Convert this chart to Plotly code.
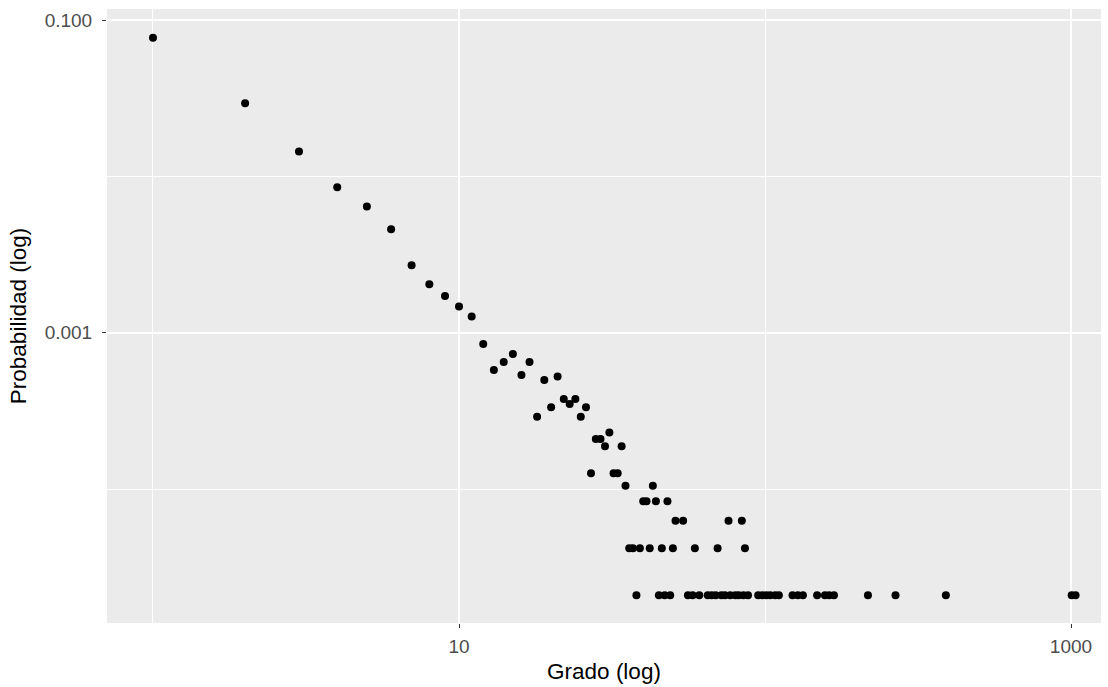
import plotly.graph_objects as go

# Degree distribution (log-log)
grado = [1, 2, 3, 4, 5, 6, 7, 8, 9, 10, 11, 12, 13, 14, 15, 16, 17, 18, 19, 20,
         21, 22, 23, 24, 25, 26, 27, 28, 29, 30, 31, 32, 33, 34, 35, 36, 37, 38, 39, 40,
         41, 42, 43, 44, 45, 46, 47, 48, 49, 50, 51, 54, 56, 58, 59, 61, 65, 67, 69, 70,
         72, 74, 76, 77, 80, 82, 84, 85, 86, 88, 95, 98, 101, 104, 108, 111, 123, 128, 133, 148,
         157, 162, 168, 217, 267, 390, 1005, 1035]
probabilidad = [0.0770, 0.0294, 0.0144, 0.00852, 0.00641, 0.00459, 0.00270, 0.00204, 0.00172, 0.00147,
                0.00127, 0.000847, 0.000578, 0.000650, 0.000731, 0.000537, 0.000650, 0.000290, 0.000499, 0.000334,
                0.000524, 0.000377, 0.000350, 0.000377, 0.000290, 0.000334, 0.000126, 0.000209, 0.000209, 0.000188,
                0.000230, 0.000126, 0.000126, 0.000188, 0.000105, 4.18e-5, 4.18e-5, 2.09e-5, 4.18e-5, 8.37e-5,
                8.37e-5, 4.18e-5, 0.000105, 8.37e-5, 2.09e-5, 4.18e-5, 2.09e-5, 8.37e-5, 2.09e-5, 4.18e-5,
                6.28e-5, 6.28e-5, 2.09e-5, 2.09e-5, 4.18e-5, 2.09e-5, 2.09e-5, 2.09e-5, 2.09e-5, 4.18e-5,
                2.09e-5, 2.09e-5, 6.28e-5, 2.09e-5, 2.09e-5, 2.09e-5, 6.28e-5, 2.09e-5, 4.18e-5, 2.09e-5,
                2.09e-5, 2.09e-5, 2.09e-5, 2.09e-5, 2.09e-5, 2.09e-5, 2.09e-5, 2.09e-5, 2.09e-5, 2.09e-5,
                2.09e-5, 2.09e-5, 2.09e-5, 2.09e-5, 2.09e-5, 2.09e-5, 2.09e-5, 2.09e-5]

x_ticks = [10, 1000]
x_ticklabels = ["10", "1000"]
x_minor = [1, 100]
y_ticks = [0.1, 0.001]
y_ticklabels = ["0.100", "0.001"]
y_minor = [0.01, 0.0001]

FONT = "Liberation Sans, Arial, sans-serif"

fig = go.Figure()
fig.add_trace(go.Scatter(
    x=grado, y=probabilidad, mode="markers",
    marker=dict(color="black", size=8, line=dict(width=0)),
    showlegend=False, hoverinfo="x+y",
))

fig.update_layout(
    width=1108, height=687,
    margin=dict(l=107, r=7, t=9, b=64),
    paper_bgcolor="white",
    plot_bgcolor="#EBEBEB",
    font=dict(family=FONT),
)

fig.update_xaxes(
    type="log", range=[-0.1503, 3.098], automargin=False,
    tickmode="array", tickvals=x_ticks, ticktext=x_ticklabels,
    showgrid=True, gridcolor="white", gridwidth=1.6,
    ticks="outside", ticklen=4, tickwidth=1, tickcolor="#333333",
    ticklabelstandoff=2,
    tickfont=dict(size=19, color="#4D4D4D", family=FONT),
    minor=dict(tickvals=x_minor, showgrid=True, gridcolor="white", gridwidth=0.8, ticks=""),
    zeroline=False, showline=False,
    title=dict(text="Grado (log)", font=dict(size=22.5, color="black", family=FONT), standoff=7),
)
fig.update_yaxes(
    type="log", range=[-4.8567, -0.9296], automargin=False,
    tickmode="array", tickvals=y_ticks, ticktext=y_ticklabels,
    showgrid=True, gridcolor="white", gridwidth=1.6,
    ticks="outside", ticklen=4, tickwidth=1, tickcolor="#333333",
    ticklabelstandoff=6,
    tickfont=dict(size=19, color="#4D4D4D", family=FONT),
    minor=dict(tickvals=y_minor, showgrid=True, gridcolor="white", gridwidth=0.8, ticks=""),
    zeroline=False, showline=False,
    title=dict(text="Probabilidad (log)", font=dict(size=22.5, color="black", family=FONT), standoff=11),
)

fig.write_html("out.html", config={"displayModeBar": False},
               post_script="document.body.style.margin='0px';")
